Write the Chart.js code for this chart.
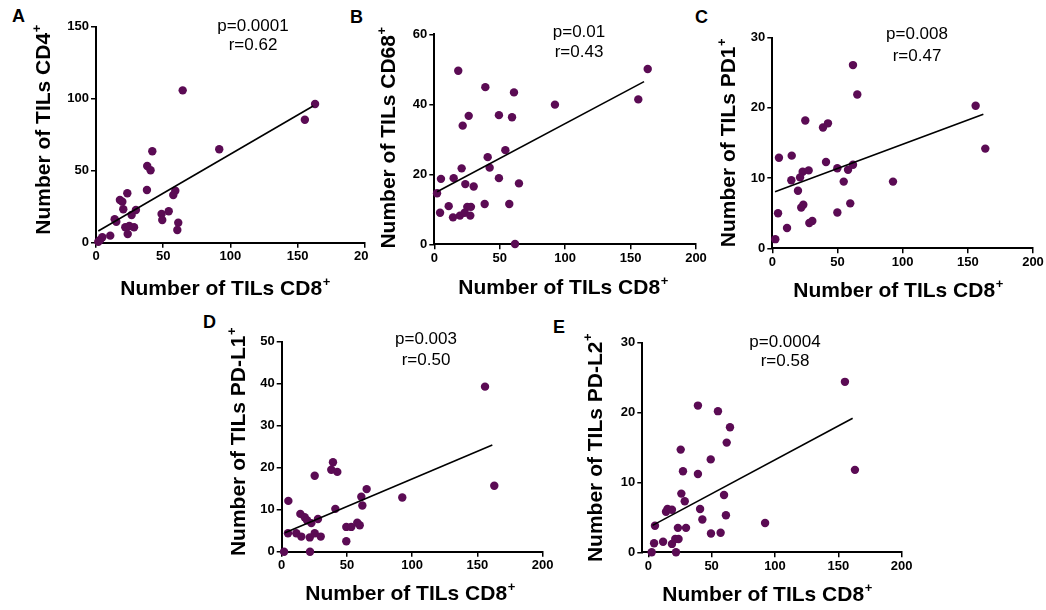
<!DOCTYPE html>
<html>
<head>
<meta charset="utf-8">
<script src="https://cdn.jsdelivr.net/npm/chart.js@4.4.1/dist/chart.umd.min.js"></script>
<style>
  html, body { margin: 0; padding: 0; background: #fff; }
  #page { position: relative; width: 1046px; height: 610px; overflow: hidden; background: #fff; }
  #page canvas { position: absolute; }
  .tag { position: absolute; font: bold 18px "Liberation Sans", Arial, sans-serif; line-height: 18px; color: #000; }
</style>
</head>
<body>
<div id="page">
  <div class="tag" style="left:12px;top:7px">A</div>
  <div class="tag" style="left:350px;top:8px">B</div>
  <div class="tag" style="left:695px;top:8px">C</div>
  <div class="tag" style="left:203px;top:313px">D</div>
  <div class="tag" style="left:553px;top:318px">E</div>
</div>
<script>
// CD8+ TIL counts (x) against each second marker (y), one pair of arrays per panel.
const cd4X = [41.9, 91.7, 38.1, 40.6, 37.9, 23.3, 59, 57.5, 17.8, 19.6, 20.3, 29.7, 26.5, 54.1, 48.8, 49.3, 13.9, 15.1, 61.2, 60.5, 21.8, 24.8, 28.3, 23.6, 10.6, 3, 4.7, 1.7, 64.5, 163, 155.4];
const cd4Y = [63.5, 64.9, 53.3, 50.3, 36.6, 34.3, 36.1, 33.1, 29.7, 28.5, 23.2, 22.7, 19.2, 21.8, 19.9, 15.8, 16.3, 14.6, 13.9, 8.8, 10.7, 11.6, 10.7, 6.0, 4.9, 1.9, 3.8, 0.7, 105.8, 96.3, 85.4];

const cd68X = [18.3, 39, 60.9, 92.2, 26.3, 21.7, 49.4, 59.4, 54.3, 40.8, 42.3, 20.9, 5.1, 14.8, 49.4, 23.7, 30.1, 64.7, 2.1, 11, 38.5, 57.3, 25.2, 28.0, 4.4, 14.3, 19.6, 23.2, 27.5, 61.7, 155.9, 163.1];
const cd68Y = [49.6, 44.9, 43.4, 39.9, 36.7, 33.9, 36.9, 36.3, 26.9, 24.9, 21.9, 21.7, 18.7, 18.9, 18.9, 17.2, 16.5, 17.4, 14.6, 10.9, 11.5, 11.5, 10.7, 10.7, 9.0, 7.7, 8.2, 9.0, 8.2, 0.1, 41.4, 50.1];

const pd1X = [65.2, 25.3, 38.9, 42.7, 5.1, 14.9, 41.2, 49.9, 58.1, 61.9, 23.3, 27.9, 14.6, 21.3, 54.8, 92.6, 19.7, 22.2, 23.8, 59.8, 4.4, 49.9, 28.4, 30.7, 11.3, 2.3, 61.9, 156, 163.4];
const pd1Y = [21.9, 18.2, 17.2, 17.8, 12.9, 13.2, 12.3, 11.4, 11.2, 11.9, 10.9, 11.1, 9.7, 10.1, 9.5, 9.5, 8.2, 5.8, 6.2, 6.4, 5.0, 5.1, 3.6, 3.9, 2.9, 1.3, 26.1, 20.3, 14.2];

const pdl1X = [39.3, 38, 42.6, 25.3, 65.1, 61, 92.4, 5.1, 61.8, 41.1, 14.3, 17.6, 19.4, 22.7, 27.8, 49.5, 53.3, 57.9, 59.8, 4.8, 11.2, 15.0, 21.5, 25.3, 29.9, 49.5, 1.8, 21.7, 155.8, 162.9];
const pdl1Y = [21.3, 19.5, 19.0, 18.1, 14.9, 13.1, 12.9, 12.1, 11.0, 10.2, 9.0, 8.2, 7.5, 6.8, 7.8, 5.9, 5.9, 6.9, 6.3, 4.4, 4.4, 3.6, 3.4, 4.4, 3.6, 2.5, 0, 0, 39.3, 15.7];

const pdl2X = [39.2, 55, 64.5, 61.9, 25.6, 49.3, 27.4, 39.2, 26.1, 59.8, 28.8, 15.2, 14.0, 18.7, 40.9, 61.3, 42.7, 92.2, 5.3, 23.4, 29.8, 49.5, 57.1, 4.6, 11.7, 18.7, 21.3, 23.9, 2.7, 21.9, 155.2, 163.1];
const pdl2Y = [21.0, 20.2, 17.9, 15.7, 14.7, 13.3, 11.6, 11.2, 8.4, 8.2, 7.3, 6.2, 5.8, 6.1, 6.2, 5.3, 4.7, 4.2, 3.8, 3.5, 3.5, 2.7, 2.8, 1.3, 1.5, 1.2, 1.9, 1.9, 0, 0, 24.4, 11.8];

// Linear fits: [intercept, slope, first x, last x]
const cd4Fit  = [7.2, 0.543, 1.7, 161.6];
const cd68Fit = [14.58, 0.199, 2.1, 160.3];
const pd1Fit  = [7.91, 0.0691, 2.1, 161.9];
const pdl1Fit = [4.17, 0.1315, 2.5, 161.4];
const pdl2Fit = [3.53, 0.0971, 3.4, 161.3];

// Tick values
const xTicks = [0, 50, 100, 150, 200];
const cd4Ticks = [0, 50, 100, 150];
const cd68Ticks = [0, 20, 40, 60];
const pd1Ticks = [0, 10, 20, 30];
const pdl1Ticks = [0, 10, 20, 30, 40, 50];
const pdl2Ticks = [0, 10, 20, 30];

// Statistics text
const pLabels = ['p=0.0001', 'p=0.01', 'p=0.008', 'p=0.003', 'p=0.0004'];
const rLabels = ['r=0.62', 'r=0.43', 'r=0.47', 'r=0.50', 'r=0.58'];
const markerNames = ['CD4', 'CD68', 'PD1', 'PD-L1', 'PD-L2'];
const xName = 'CD8';

const FONT = '"Liberation Sans", Arial, Helvetica, sans-serif';
const DOT = '#5b0b54';

// Page geometry of each panel: canvas box, plot rectangle, title and stats anchors.
const panels = [
  { xs: cd4X,  ys: cd4Y,  fit: cd4Fit,  yTicks: cd4Ticks,  xMin: 0,
    box: [0, 0, 369, 305], plot: [96, 26.7, 365, 242.7],
    xTitle: [225, 295], yTitle: [50, 130], stats: [253, 31, 50] },
  { xs: cd68X, ys: cd68Y, fit: cd68Fit, yTicks: cd68Ticks, xMin: 0,
    box: [369, 0, 340, 305], plot: [434.3, 34.3, 696, 244.3],
    xTitle: [563, 294], yTitle: [395, 138], stats: [579, 37, 57] },
  { xs: pd1X,  ys: pd1Y,  fit: pd1Fit,  yTicks: pd1Ticks,  xMin: 0,
    box: [690, 0, 356, 305], plot: [772.3, 37.7, 1033, 248.3],
    xTitle: [898, 297], yTitle: [735, 143], stats: [917, 39, 61] },
  { xs: pdl1X, ys: pdl1Y, fit: pdl1Fit, yTicks: pdl1Ticks, xMin: 0,
    box: [195, 305, 365, 305], plot: [281.7, 341.7, 542.7, 551.7],
    xTitle: [410, 600], yTitle: [245, 442], stats: [426, 344.3, 365] },
  { xs: pdl2X, ys: pdl2Y, fit: pdl2Fit, yTicks: pdl2Ticks, xMin: -4.7,
    box: [560, 305, 380, 305], plot: [642.3, 342.7, 901.7, 552.3],
    xTitle: [767, 601], yTitle: [601.7, 448], stats: [785, 346.7, 366] }
];

const TITLE_SIZE = 21;
const SUP_SIZE = 13;

function drawSupText(ctx, main, sup, cx, baseline) {
  ctx.font = `bold ${TITLE_SIZE}px ${FONT}`;
  const wm = ctx.measureText(main).width;
  ctx.font = `bold ${SUP_SIZE}px ${FONT}`;
  const ws = ctx.measureText(sup).width;
  const x0 = cx - (wm + ws) / 2;
  ctx.textAlign = 'left';
  ctx.textBaseline = 'alphabetic';
  ctx.font = `bold ${TITLE_SIZE}px ${FONT}`;
  ctx.fillText(main, x0, baseline);
  ctx.font = `bold ${SUP_SIZE}px ${FONT}`;
  ctx.fillText(sup, x0 + wm + 0.5, baseline - TITLE_SIZE * 0.45);
}

function labelsPlugin(p, i) {
  return {
    id: 'panelText' + i,
    afterDraw(chart) {
      const ctx = chart.ctx;
      ctx.save();
      ctx.translate(-p.box[0], -p.box[1]);
      ctx.fillStyle = '#000';
      // axis titles
      drawSupText(ctx, 'Number of TILs ' + xName, '+', p.xTitle[0], p.xTitle[1]);
      ctx.save();
      ctx.translate(p.yTitle[0], p.yTitle[1]);
      ctx.rotate(-Math.PI / 2);
      drawSupText(ctx, 'Number of TILs ' + markerNames[i], '+', 0, 0);
      ctx.restore();
      // correlation statistics
      ctx.font = `17px ${FONT}`;
      ctx.textAlign = 'center';
      ctx.textBaseline = 'alphabetic';
      ctx.fillText(pLabels[i], p.stats[0], p.stats[1]);
      ctx.fillText(rLabels[i], p.stats[0], p.stats[2]);
      ctx.restore();
    }
  };
}

const Y_W = 40, X_H = 30;

function axisCommon() {
  return {
    type: 'linear',
    grid: { drawOnChartArea: false, drawTicks: true, tickLength: 5, color: '#000', lineWidth: 1.5 },
    border: { display: true, color: '#000', width: 2 },
    ticks: { color: '#000', font: { family: FONT, size: 13, weight: 'bold' }, autoSkip: false, maxRotation: 0 }
  };
}

const page = document.getElementById('page');
panels.forEach((p, i) => {
  const [cl, ct, cw, ch] = p.box;
  const [L, T, R, B] = p.plot;
  const cv = document.createElement('canvas');
  cv.width = cw; cv.height = ch;
  cv.style.left = cl + 'px'; cv.style.top = ct + 'px';
  cv.style.width = cw + 'px'; cv.style.height = ch + 'px';
  page.appendChild(cv);

  const [a, b, x0, x1] = p.fit;
  const pts = p.xs.map((x, k) => ({ x: x, y: p.ys[k] }));
  const xAxis = axisCommon();
  Object.assign(xAxis, {
    position: 'bottom', min: p.xMin, max: 200,
    afterBuildTicks: s => { s.ticks = xTicks.map(v => ({ value: v })); },
    afterFit: s => { s.height = X_H; s.paddingLeft = 0; s.paddingRight = 0; }
  });
  xAxis.ticks.padding = 1;
  const yAxis = axisCommon();
  Object.assign(yAxis, {
    position: 'left', min: 0, max: p.yTicks[p.yTicks.length - 1],
    afterBuildTicks: s => { s.ticks = p.yTicks.map(v => ({ value: v })); },
    afterFit: s => { s.width = Y_W; s.paddingTop = 0; s.paddingBottom = 0; }
  });
  yAxis.ticks.padding = 2;

  new Chart(cv, {
    type: 'scatter',
    data: {
      datasets: [
        { type: 'line', data: [{ x: x0, y: a + b * x0 }, { x: x1, y: a + b * x1 }],
          borderColor: '#000', borderWidth: 1.6, pointRadius: 0, fill: false, clip: false, order: 0 },
        { type: 'scatter', data: pts, pointRadius: 4.2, pointHoverRadius: 4.2,
          backgroundColor: DOT, borderWidth: 0, clip: false, order: 1 }
      ]
    },
    options: {
      responsive: false,
      animation: false,
      devicePixelRatio: 1,
      layout: { padding: { left: L - cl - Y_W, top: T - ct, right: cl + cw - R, bottom: ct + ch - B - X_H } },
      plugins: { legend: { display: false }, tooltip: { enabled: false } },
      events: [],
      scales: { x: xAxis, y: yAxis }
    },
    plugins: [labelsPlugin(p, i)]
  });
});
</script>
</body>
</html>
